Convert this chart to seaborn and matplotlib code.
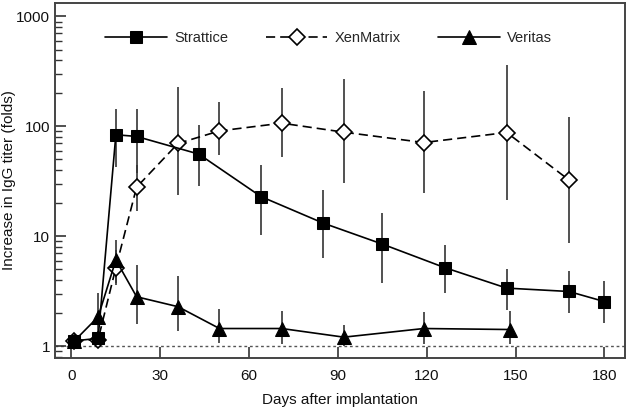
import numpy as np
import pandas as pd
import seaborn as sns
import matplotlib
matplotlib.use("Agg")
import matplotlib.pyplot as plt
from matplotlib.ticker import FixedLocator, LogLocator, NullFormatter, FuncFormatter

sns.set_style("ticks")
plt.rcParams['font.family'] = ['Liberation Sans', 'DejaVu Sans']

# data (fold increase of IgG titer, mean with range bars)
days_strattice = [1, 9, 15, 22, 43, 64, 85, 105, 126, 147, 168, 180]
strattice = [1.12, 1.18, 84, 81, 56, 23, 13.2, 8.5, 5.2, 3.38, 3.15, 2.55]
strattice_lo = [1.08, 1.1, 43, 38, 28.4, 10.3, 6.3, 3.75, 3.07, 2.13, 2.0, 1.63]
strattice_hi = [1.18, 1.3, 144, 144, 103, 44.7, 26.5, 16.3, 8.4, 5.0, 4.8, 3.9]

days_xen = [1, 9, 15, 22, 36, 50, 71, 92, 119, 147, 168]
xenmatrix = [1.12, 1.15, 5.2, 28, 70, 91, 107, 88.6, 71.3, 88, 32.6]
xenmatrix_lo = [1.08, 1.08, 3.6, 17, 23.8, 55, 53, 30.5, 24.7, 21.5, 8.7]
xenmatrix_hi = [1.18, 1.3, 7.5, 45, 227, 168, 222, 268, 211, 362, 121]

days_veritas = [1, 9, 15, 22, 36, 50, 71, 92, 119, 148]
veritas = [1.12, 1.85, 6.1, 2.82, 2.29, 1.45, 1.45, 1.21, 1.45, 1.42]
veritas_lo = [1.08, 1.2, 3.75, 1.6, 1.37, 1.07, 1.04, 1.0, 1.04, 1.05]
veritas_hi = [1.18, 3.05, 9.2, 5.5, 4.4, 2.2, 2.1, 1.55, 2.05, 2.1]

fig = plt.figure(figsize=(6.27, 4.08), dpi=100)
ax = fig.add_axes([0.088, 0.123, 0.909, 0.870])

dark = '#333333'

# error bars (no caps)
ax.vlines(days_strattice, strattice_lo, strattice_hi, color=dark, lw=1.2, zorder=1)
ax.vlines(days_xen, xenmatrix_lo, xenmatrix_hi, color=dark, lw=1.2, zorder=1)
ax.vlines(days_veritas, veritas_lo, veritas_hi, color=dark, lw=1.2, zorder=1)

sns.lineplot(x=days_strattice, y=strattice, ax=ax, color='black', lw=1.2,
             marker='s', markersize=8.5, markerfacecolor='black', markeredgecolor='black',
             label='Strattice', zorder=3)
sns.lineplot(x=days_xen, y=xenmatrix, ax=ax, color='black', lw=1.2, ls=(0, (5.5, 3)),
             marker='D', markersize=8.5, markerfacecolor='white', markeredgecolor='black',
             markeredgewidth=1.2, label='XenMatrix', zorder=2)
sns.lineplot(x=days_veritas, y=veritas, ax=ax, color='black', lw=1.2,
             marker='^', markersize=10, markerfacecolor='black', markeredgecolor='black',
             label='Veritas', zorder=3)

ax.axhline(1, color='#555555', lw=1, ls=(0, (2, 2)), zorder=0)

ax.set_yscale('log')
ax.set_xlim(-5.5, 187)
ax.set_ylim(0.785, 1330)
ax.xaxis.set_major_locator(FixedLocator([0, 30, 60, 90, 120, 150, 180]))
ax.yaxis.set_major_locator(FixedLocator([1, 10, 100, 1000]))
ax.yaxis.set_major_formatter(FuncFormatter(lambda v, p: '%g' % v))
ax.yaxis.set_minor_locator(LogLocator(base=10, subs=np.arange(2, 10)))
ax.yaxis.set_minor_formatter(NullFormatter())

ax.tick_params(axis='both', which='major', direction='in', length=8, width=1.2,
               color=dark, labelsize=11, labelcolor='#111111')
ax.tick_params(axis='x', which='major', pad=8)
ax.tick_params(axis='y', which='minor', direction='in', length=5, width=1, color=dark)
for s in ax.spines.values():
    s.set_color('#444444')
    s.set_linewidth(1.4)

ax.set_xlabel('Days after implantation', fontsize=11, color='#111111', labelpad=7)
ax.set_ylabel('Increase in IgG titer (folds)', fontsize=11, color='#111111')
ax.yaxis.set_label_coords(-0.068, 0.5)

ax.legend(loc='center', bbox_to_anchor=(0.48, 0.9), ncol=3, frameon=False,
          handlelength=4.2, columnspacing=2.6, handletextpad=0.5, fontsize=10.5)

fig.savefig('out.png', dpi=100)
